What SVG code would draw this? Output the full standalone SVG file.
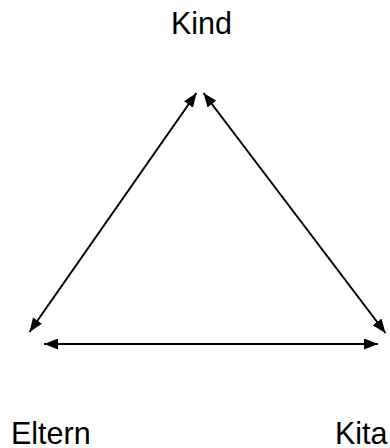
<svg xmlns="http://www.w3.org/2000/svg" width="390" height="448" viewBox="0 0 390 448">
<style>
text{font-family:"Liberation Sans",Arial,sans-serif;font-size:30.5px;fill:#000}
.c{stroke:#000;stroke-width:2;fill:none;marker-start:url(#ah);marker-end:url(#ah)}
</style>
<defs>
<marker id="ah" viewBox="0 0 14 11" refX="14" refY="5.5" markerWidth="14" markerHeight="11" markerUnits="userSpaceOnUse" orient="auto-start-reverse">
<path d="M0,0 L14,5.5 L0,11 Z" fill="#000"/>
</marker>
</defs>
<rect width="390" height="448" fill="#fff"/>
<g id="connectors">
<line class="c" x1="196.5" y1="93" x2="29.5" y2="332"/>
<line class="c" x1="203.5" y1="93" x2="385.5" y2="333"/>
<line class="c" x1="44" y1="344" x2="378" y2="344"/>
</g>
<g id="kind"><text x="201.5" y="33.5" text-anchor="middle">Kind</text></g>
<g id="eltern"><text x="11" y="443.5">Eltern</text></g>
<g id="kita"><text x="335" y="443.5">Kita</text></g>
</svg>
